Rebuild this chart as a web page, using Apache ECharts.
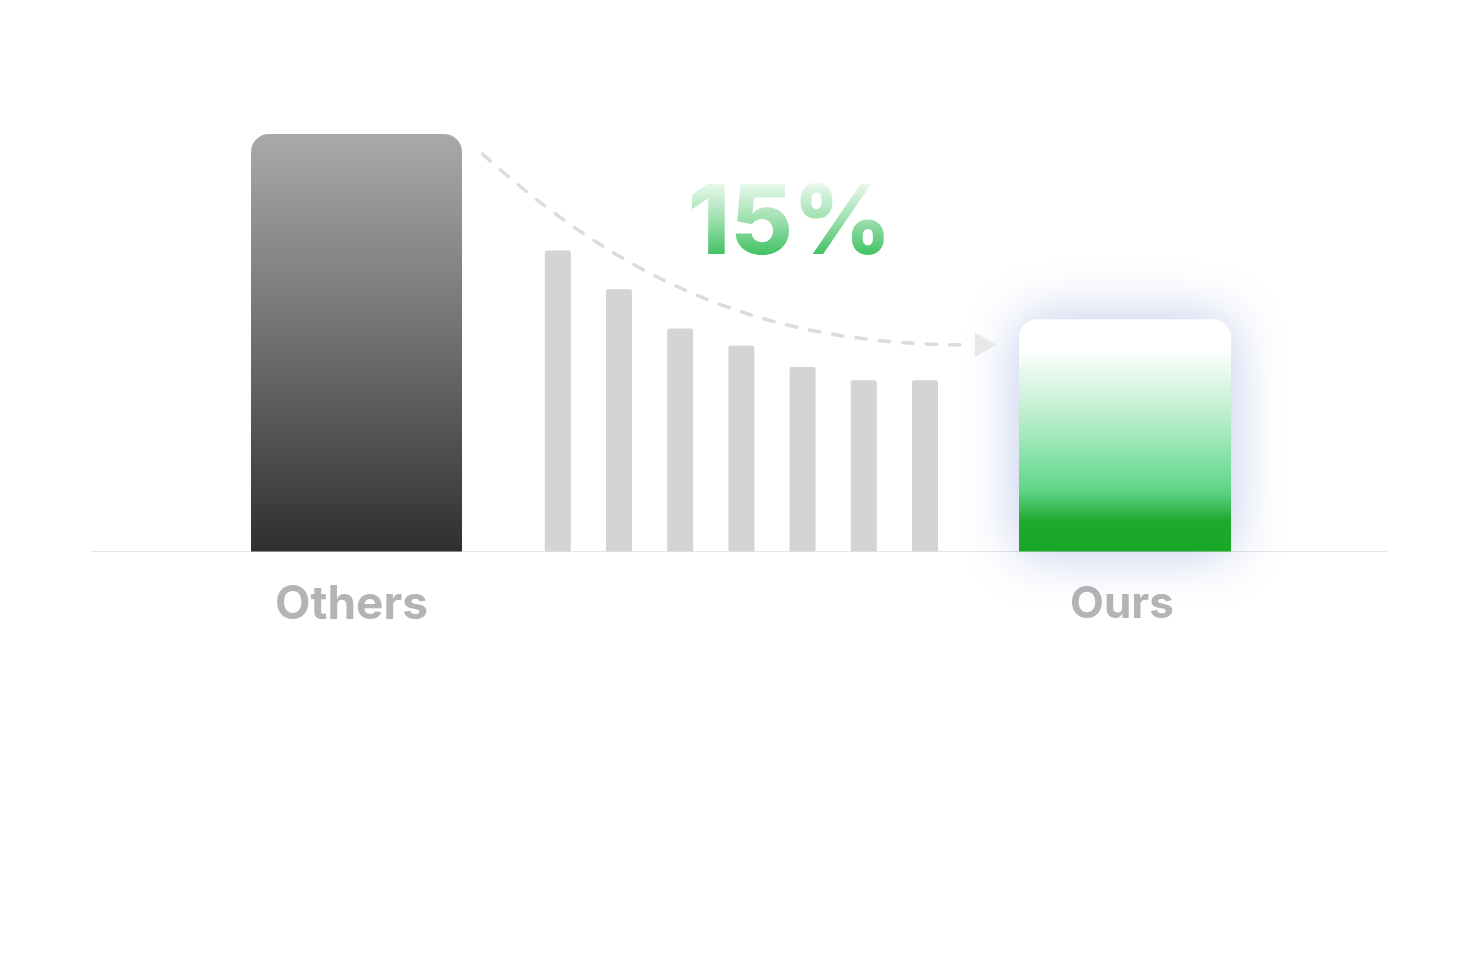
<!DOCTYPE html>
<html>
<head>
<meta charset="utf-8">
<script src="https://cdn.jsdelivr.net/npm/echarts@6/dist/echarts.min.js"></script>
<style>
html,body{margin:0;padding:0;background:#fff;}
#c{width:1474px;height:972px;}
</style>
</head>
<body>
<div id="c"></div>
<script>
// ---- data ----
var othersCategory = ['Others'];
var othersValues = [100];
var stepCategories = ['s1','s2','s3','s4','s5','s6','s7'];
var stepValues = [72.1, 62.8, 53.4, 49.3, 44.2, 41.0, 41.0];
var oursCategory = ['Ours'];
var oursValues = [55.6];
var reductionLabel = '15%';

var chart = echarts.init(document.getElementById('c'), null, {renderer:'canvas'});
var G = echarts.graphic;
var axisLineStyle = {show:true, lineStyle:{color:'#e6e6e6', width:1}};
var gridTop = 134, gridBottom = 420.5;

function yAx(i){
  return {type:'value', gridIndex:i, min:0, max:100, show:false};
}

var option = {
  backgroundColor:'#ffffff',
  animation:false,
  grid:[
    {left:91, width:531, top:gridTop, bottom:gridBottom},
    {left:527.2, width:428.4, top:gridTop, bottom:gridBottom},
    {left:864, width:522, top:gridTop, bottom:gridBottom}
  ],
  xAxis:[
    {type:'category', gridIndex:0, data:othersCategory, axisLine:axisLineStyle, axisTick:{show:false},
      axisLabel:{margin:31, fontFamily:'Inter', fontWeight:'bold', fontSize:46, color:'#b4b4b4', padding:[0,10,0,0]}},
    {type:'category', gridIndex:1, data:stepCategories, axisLine:axisLineStyle, axisTick:{show:false},
      axisLabel:{show:false}},
    {type:'category', gridIndex:2, data:oursCategory, axisLine:axisLineStyle, axisTick:{show:false},
      axisLabel:{margin:31, fontFamily:'Inter', fontWeight:'bold', fontSize:44, color:'#b4b4b4', padding:[0,6,0,0]}}
  ],
  yAxis:[yAx(0), yAx(1), yAx(2)],
  series:[
    {type:'bar', xAxisIndex:0, yAxisIndex:0, data:othersValues, barWidth:211, z:3,
      itemStyle:{borderRadius:[18,18,0,0],
        color:new G.LinearGradient(0,0,0,1,[{offset:0,color:'#a9a9a9'},{offset:0.5,color:'#6f6f6f'},{offset:1,color:'#2f2f2f'}])}},
    {type:'bar', xAxisIndex:1, yAxisIndex:1, data:stepValues, barWidth:26, z:3,
      itemStyle:{color:'#d4d4d4', borderRadius:[2,2,0,0]}},
    {type:'bar', xAxisIndex:2, yAxisIndex:2, data:oursValues, barWidth:212, z:3,
      itemStyle:{borderRadius:[18,18,0,0],
        shadowBlur:55, shadowColor:'rgba(100,125,205,0.42)', shadowOffsetX:0, shadowOffsetY:0,
        color:new G.LinearGradient(0,0,0,1,[
          {offset:0,color:'#ffffff'},{offset:0.13,color:'#ffffff'},
          {offset:0.37,color:'#c8f0d4'},{offset:0.58,color:'#8ce3ab'},
          {offset:0.74,color:'#5fd487'},{offset:0.87,color:'#1ea92c'},{offset:1,color:'#18a825'}])}}
  ]
};
chart.setOption(option);

// annotation (arrow + percentage), anchored to the bars through the axes
var pO = chart.convertToPixel({xAxisIndex:0, yAxisIndex:0}, [othersCategory[0], othersValues[0]]);
var pU = chart.convertToPixel({xAxisIndex:2, yAxisIndex:2}, [oursCategory[0], oursValues[0]]);
var sx = pO[0] + 126, sy = pO[1] + 20;
var ex = pU[0] - 150, ey = pU[1] + 25.5;
var tx = (pO[0]+pU[0])/2 + 49, ty = 225;
chart.setOption({
  graphic:[
    {type:'bezierCurve', z:10, silent:true,
      shape:{x1:sx, y1:sy, cpx1:sx+168, cpy1:sy+152, cpx2:ex-175, cpy2:ey, x2:ex-4, y2:ey},
      style:{stroke:'#dcdcdc', lineWidth:3.5, lineDash:[10.5,13], lineCap:'round', fill:null}},
    {type:'polygon', z:10, silent:true,
      shape:{points:[[ex,ey-12],[ex+22,ey],[ex,ey+12]]},
      style:{fill:'#e8e8e8'}},
    {type:'text', z:10, silent:true,
      x:tx, y:ty,
      style:{text:reductionLabel, font:'800 96px Inter', align:'center', verticalAlign:'middle',
        fill:'#2cbb51'}},
    {type:'rect', z:11, silent:true,
      shape:{x:tx-110, y:ty-46, width:220, height:84},
      style:{fill:new G.LinearGradient(0,0,0,1,[
        {offset:0,color:'rgba(255,255,255,0.94)'},
        {offset:0.5,color:'rgba(255,255,255,0.52)'},
        {offset:1,color:'rgba(255,255,255,0)'}])}}
  ]
});
</script>
</body>
</html>
